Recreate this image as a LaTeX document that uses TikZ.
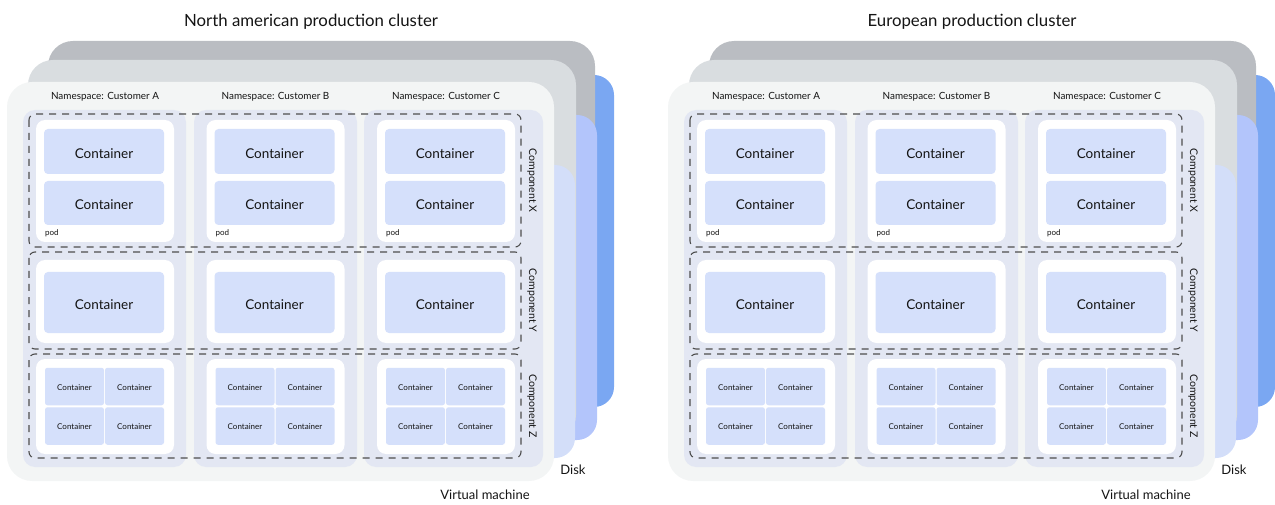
\documentclass[tikz,border=0pt]{standalone}
\usepackage{fontspec}
\setmainfont{Lato}
\definecolor{dblue}{HTML}{7AA7F2}
\definecolor{mblue}{HTML}{B3C5FB}
\definecolor{lblue}{HTML}{D3DEF9}
\definecolor{grayA}{HTML}{BABDC2}
\definecolor{grayB}{HTML}{D9DDE0}
\definecolor{frontc}{HTML}{F3F5F5}
\definecolor{nsc}{HTML}{E3E7F3}
\definecolor{contc}{HTML}{D5E0FB}
\definecolor{txt}{HTML}{141414}
\definecolor{dashc}{HTML}{4E4E4E}
\tikzset{
  cont/.style={fill=contc, rounded corners=4pt, inner sep=0pt, text=txt,
    minimum width=120pt, text height=13.5pt, text depth=0pt,
    font=\fontsize{13.5}{15}\selectfont},
  scont/.style={fill=contc, rounded corners=2.5pt, inner sep=0pt, text=txt,
    minimum width=59pt, minimum height=37.5pt, text height=7pt, text depth=0pt,
    font=\fontsize{8}{9}\selectfont},
  podbox/.style={fill=white, rounded corners=9pt},
  nsbox/.style={fill=nsc, rounded corners=12pt},
  comp/.style={draw=dashc, dash pattern=on 7pt off 6pt, line width=1.1pt, rounded corners=6pt},
  lbl/.style={text=txt, inner sep=0pt},
  titlelbl/.style={lbl, font=\fontsize{16.8}{19}\selectfont},
  nslbl/.style={lbl, font=\fontsize{9.9}{12}\selectfont},
  podlbl/.style={lbl, anchor=west, font=\fontsize{8}{9}\selectfont},
  complbl/.style={lbl, rotate=-90, font=\fontsize{10.5}{12}\selectfont},
  biglbl/.style={lbl, font=\fontsize{13}{15}\selectfont},
}
\newcommand{\drawcluster}[3]{%
\begin{scope}[xshift=#1pt, name prefix=#2-]
  \fill[dblue, rounded corners=20pt] (500,75) rectangle (614,407);
  \fill[grayA, rounded corners=25pt] (48,41) rectangle (595,420);
  \fill[mblue, rounded corners=20pt] (480,115) rectangle (597,440);
  \fill[grayB, rounded corners=25pt] (28,60) rectangle (576,440);
  \fill[lblue, rounded corners=20pt] (460,165) rectangle (575,458);
  \fill[frontc, rounded corners=25pt] (7,82) rectangle (554,481);
  \node[titlelbl] (title) at (311,21.5) {#3};
  \fill[nsbox] (23,110) rectangle (186,467);
  \fill[nsbox] (194,110) rectangle (357,467);
  \fill[nsbox] (364,110) rectangle (543,467);
  \foreach \n/\o/\c in {A/0/a, B/170.5/b, C/341/c} {
    \node[nslbl] (ns\c) at (105+\o,97) {Namespace: Customer \n};
    \fill[podbox] (36+\o,120) rectangle (174+\o,242);
    \node[cont, minimum height=45pt] (\c x1) at (104+\o,151.5) {Container};
    \node[cont, minimum height=44pt] (\c x2) at (104+\o,203) {Container};
    \node[podlbl] (\c pod) at (45+\o,233.5) {pod};
    \fill[podbox] (36+\o,260) rectangle (174+\o,343);
    \node[cont, minimum height=61pt] (\c y) at (104+\o,302.5) {Container};
    \fill[podbox] (36+\o,359) rectangle (174+\o,454);
    \node[scont] (\c z1) at (74.5+\o,386.5) {Container};
    \node[scont] (\c z2) at (134.5+\o,386.5) {Container};
    \node[scont] (\c z3) at (74.5+\o,426) {Container};
    \node[scont] (\c z4) at (134.5+\o,426) {Container};
  }
  \draw[comp] (29,114) rectangle (521,247);
  \draw[comp] (29,252) rectangle (521,349);
  \draw[comp] (29,354) rectangle (521,458);
  \node[complbl] (cx) at (532,180.5) {Component X};
  \node[complbl] (cy) at (532,300.5) {Component Y};
  \node[complbl] (cz) at (532,406) {Component Z};
  \node[biglbl] (disk) at (573,470) {Disk};
  \node[biglbl] (vm) at (485,495) {Virtual machine};
\end{scope}}
\begin{document}
\begin{tikzpicture}[x=1pt, y=-1pt]
  \useasboundingbox (0,0) rectangle (1275,505);
  \drawcluster{0}{na}{North american production cluster}
  \drawcluster{661}{eu}{European production cluster}
\end{tikzpicture}
\end{document}
